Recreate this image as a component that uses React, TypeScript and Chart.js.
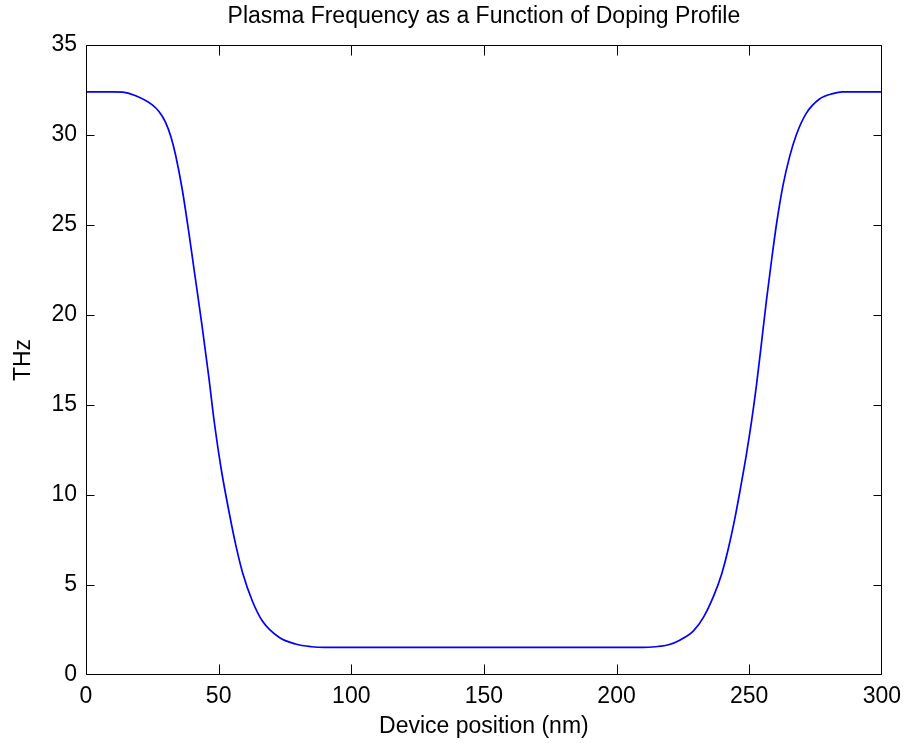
import React, { useEffect, useRef } from "react";
import { Chart, registerables } from "chart.js";

Chart.register(...registerables);

const TITLE = "Plasma Frequency as a Function of Doping Profile";
const X_LABEL = "Device position (nm)";
const Y_LABEL = "THz";

// Device position (nm)
const positions = [
  0, 10, 14, 18.75, 25, 27.5, 30, 32, 33.75, 36.25, 38.75, 41.25, 43.75, 46.25, 48.4,
  50.9, 54, 56.5, 59, 62.75, 66.5, 72.75, 79, 85, 90, 150, 210, 214.6, 219.6, 224,
  229, 232.75, 236.5, 239.6, 242.1, 244.6, 246.5, 249, 250.9, 252.75, 254.6, 256.5,
  258.4, 260.25, 262.75, 265.25, 267.75, 271.5, 276.5, 281.5, 285.25, 300,
];
// Plasma frequency (THz)
const frequencies = [
  32.4, 32.4, 32.38, 32.18, 31.67, 31.3, 30.7, 29.9, 28.9, 27.0, 24.6, 22.0, 19.4,
  16.6, 14.0, 11.5, 9.0, 7.2, 5.7, 4.1, 3.0, 2.1, 1.72, 1.57, 1.53, 1.53, 1.53, 1.57,
  1.68, 1.95, 2.45, 3.2, 4.35, 5.6, 7.0, 8.7, 10.2, 12.3, 14.1, 16.1, 18.4, 20.8,
  23.0, 25.0, 27.2, 28.8, 30.0, 31.2, 32.0, 32.3, 32.4, 32.4,
];

const X_MIN = 0;
const X_MAX = 300;
const X_STEP = 50;
const Y_MIN = 0;
const Y_MAX = 35;
const Y_STEP = 5;

const FONT_FAMILY = '"Liberation Sans", Arial, Helvetica, sans-serif';

const boxTicksPlugin = {
  id: "boxTicks",
  afterDatasetsDraw(chart: any) {
    const { ctx, chartArea, scales } = chart;
    const { left, right, top, bottom } = chartArea;
    const xs = scales.x;
    const ys = scales.y;
    ctx.save();
    ctx.strokeStyle = "#000";
    ctx.lineWidth = 1;
    const L = Math.round(left) + 0.5;
    const R = Math.round(right) - 0.5;
    const T = Math.round(top) + 0.5;
    const B = Math.round(bottom) - 0.5;
    ctx.beginPath();
    ctx.rect(L, T, R - L, B - T);
    ctx.stroke();
    const xTick = 10;
    const yTick = 8;
    ctx.beginPath();
    xs.ticks.forEach((t: any) => {
      const px = Math.min(R, Math.max(L, Math.round(xs.getPixelForValue(t.value)) + 0.5));
      ctx.moveTo(px, B);
      ctx.lineTo(px, B - xTick);
      ctx.moveTo(px, T);
      ctx.lineTo(px, T + xTick);
    });
    ys.ticks.forEach((t: any) => {
      const py = Math.min(B, Math.max(T, Math.round(ys.getPixelForValue(t.value)) + 0.5));
      ctx.moveTo(L, py);
      ctx.lineTo(L + yTick, py);
      ctx.moveTo(R, py);
      ctx.lineTo(R - yTick, py);
    });
    ctx.stroke();
    // title centred over the plot area
    ctx.fillStyle = "#000";
    ctx.font = `23px ${FONT_FAMILY}`;
    ctx.textAlign = "center";
    ctx.textBaseline = "middle";
    ctx.fillText(TITLE, (left + right) / 2, 17);
    ctx.restore();
  },
};

export default function App() {
  const canvasRef = useRef<HTMLCanvasElement | null>(null);

  useEffect(() => {
    document.body.style.margin = "0";
    const canvas = canvasRef.current;
    if (!canvas) return;
    const data = positions.map((x, i) => ({ x, y: frequencies[i] }));
    const chart = new Chart(canvas, {
      type: "line",
      data: {
        datasets: [
          {
            data,
            borderColor: "#0000ff",
            borderWidth: 1.7,
            pointRadius: 0,
            fill: false,
            cubicInterpolationMode: "monotone",
          },
        ],
      },
      options: {
        responsive: false,
        animation: false,
        devicePixelRatio: 1,
        layout: { padding: { left: 0, right: 23, top: 45, bottom: 0 } },
        plugins: {
          legend: { display: false },
          tooltip: { enabled: false },
          title: { display: false },
        },
        scales: {
          x: {
            type: "linear",
            min: X_MIN,
            max: X_MAX,
            afterFit(scale: any) {
              scale.height = 68;
            },
            grid: { display: false, drawTicks: false },
            border: { display: false },
            ticks: {
              stepSize: X_STEP,
              color: "#000",
              padding: 8,
              maxRotation: 0,
              font: { family: FONT_FAMILY, size: 23 },
            },
            title: {
              display: true,
              text: X_LABEL,
              color: "#000",
              font: { family: FONT_FAMILY, size: 23 },
              padding: { top: 3, bottom: 3 },
            },
          },
          y: {
            type: "linear",
            min: Y_MIN,
            max: Y_MAX,
            afterFit(scale: any) {
              scale.width = 86;
            },
            grid: { display: false, drawTicks: false },
            border: { display: false },
            ticks: {
              stepSize: Y_STEP,
              color: "#000",
              padding: 9,
              font: { family: FONT_FAMILY, size: 23 },
            },
            title: {
              display: true,
              text: Y_LABEL,
              color: "#000",
              font: { family: FONT_FAMILY, size: 23 },
              padding: { top: 10, bottom: 10 },
            },
          },
        },
      },
      plugins: [boxTicksPlugin],
    } as any);
    return () => chart.destroy();
  }, []);

  return (
    <div style={{ width: 909, height: 743, background: "#fff" }}>
      <canvas ref={canvasRef} width={909} height={743} style={{ display: "block", width: 909, height: 743 }} />
    </div>
  );
}
